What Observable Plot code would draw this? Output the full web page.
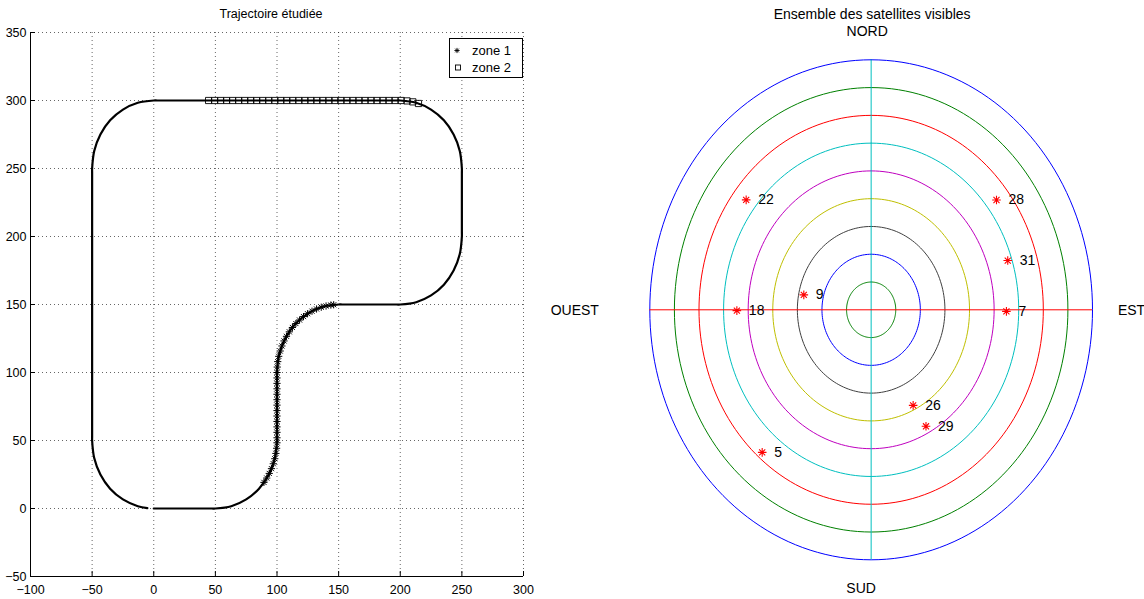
<!DOCTYPE html>
<html>
<head>
<meta charset="utf-8">
<script src="https://cdn.jsdelivr.net/npm/d3@7"></script>
<script src="https://cdn.jsdelivr.net/npm/@observablehq/plot@0.6"></script>
<style>
  body { margin: 0; background: #fff; }
  #wrap { position: relative; width: 1144px; height: 599px; overflow: hidden; font-family: "Liberation Sans", Arial, sans-serif; }
  #left, #right, #legend { position: absolute; top: 0; }
  #left { left: 0; }
  #right { left: 540px; }
</style>
</head>
<body>
<div id="wrap"><div id="left"></div><div id="right"></div><div id="legend"></div></div>
<script>
// ---------- Left panel data ----------
const leftTitle = "Trajectoire étudiée";
const xTicks = [-100, -50, 0, 50, 100, 150, 200, 250, 300];
const yTicks = [-50, 0, 50, 100, 150, 200, 250, 300, 350];

// trajectory waypoints
const trajX = [0, 3, 47, 50, 62.9, 75.0, 85.4, 93.3, 98.3, 100, 100, 100, 100, 101.7, 106.7, 114.6, 125.0, 137.1, 150, 153, 197, 200, 212.9, 225.0, 235.4, 243.3, 248.3, 250, 250, 250, 250, 248.3, 243.3, 235.4, 225.0, 212.9, 200, 197, 3, 0, -12.9, -25.0, -35.4, -43.3, -48.3, -50, -50, -50, -50, -48.3, -43.3, -35.4, -25.0, -12.9, -5.2];
const trajY = [0, 0, 0, 0, 1.7, 6.7, 14.6, 25.0, 37.1, 50, 53, 97, 100, 112.9, 125.0, 135.4, 143.3, 148.3, 150, 150, 150, 150, 151.7, 156.7, 164.6, 175.0, 187.1, 200, 203, 247, 250, 262.9, 275.0, 285.4, 293.3, 298.3, 300, 300, 300, 300, 298.3, 293.3, 285.4, 275.0, 262.9, 250, 247, 53, 50, 37.1, 25.0, 14.6, 6.7, 1.7, 0.3];

// zone 1 markers (asterisks)
const zone1X = [89.4, 91.7, 93.7, 95.5, 97.0, 98.2, 99.1, 99.7, 100.0, 100, 100, 100, 100, 100, 100, 100, 100, 100, 100, 100, 100, 100, 100.2, 100.6, 101.4, 102.6, 104.0, 105.7, 107.7, 110.0, 112.5, 115.3, 118.3, 121.5, 124.8, 128.4, 132.1, 135.9, 139.8, 143.7, 146.0];
const zone1Y = [19.2, 22.4, 25.8, 29.3, 32.9, 36.6, 40.5, 44.3, 48.3, 52, 56, 60, 64, 68, 72, 76, 80, 84, 88, 92, 96, 100, 104.0, 108.0, 111.9, 115.8, 119.5, 123.2, 126.6, 129.9, 133.1, 136.0, 138.6, 141.1, 143.2, 145.1, 146.7, 148.0, 148.9, 149.6, 149.8];

// zone 2 markers (squares)
const zone2X = [44.5, 49.4, 54.3, 59.1, 64.0, 68.9, 73.8, 78.7, 83.5, 88.4, 93.3, 98.2, 103.1, 107.9, 112.8, 117.7, 122.6, 127.5, 132.3, 137.2, 142.1, 147.0, 151.9, 156.7, 161.6, 166.5, 171.4, 176.3, 181.1, 186.0, 190.9, 195.8, 200.7, 205.5, 210.2, 214.8];
const zone2Y = [300, 300, 300, 300, 300, 300, 300, 300, 300, 300, 300, 300, 300, 300, 300, 300, 300, 300, 300, 300, 300, 300, 300, 300, 300, 300, 300, 300, 300, 300, 300, 300, 300, 299.7, 299.0, 297.8];

const legendLabels = ["zone 1", "zone 2"];

// ---------- Right panel data ----------
const rightTitle = "Ensemble des satellites visibles";
const dirNorth = "NORD", dirSouth = "SUD", dirEast = "EST", dirWest = "OUEST";
const ringRadii = [90, 80, 70, 60, 50, 40, 30, 20, 10];
const ringColors = ["#0000ff", "#008000", "#ff0000", "#00bfbf", "#bf00bf", "#bfbf00", "#404040", "#0000ff", "#008000"];
const satIds = [22, 28, 31, 9, 18, 7, 26, 29, 5];
const satAz  = [307.9, 52.2, 72.3, 281.1, 269.7, 90.6, 153.6, 152.0, 220.8];
const satEl  = [25.6, 25.5, 31.7, 62.1, 35.4, 35.0, 51.6, 42.5, 22.2];

// ---------- helpers ----------
const matlabStar = {
  draw(context, size) {
    const r = Math.sqrt(size / Math.PI), d = r * Math.SQRT1_2;
    context.moveTo(-r, 0); context.lineTo(r, 0);
    context.moveTo(0, -r); context.lineTo(0, r);
    context.moveTo(-d, -d); context.lineTo(d, d);
    context.moveTo(-d, d); context.lineTo(d, -d);
  }
};
const fontFamily = '"Liberation Sans", Arial, Helvetica, sans-serif';

const traj = trajX.map((x, i) => ({x, y: trajY[i]}));
const zone1 = zone1X.map((x, i) => ({x, y: zone1Y[i]}));
const zone2 = zone2X.map((x, i) => ({x, y: zone2Y[i]}));
const gridStyle = {stroke: "#000", strokeOpacity: 0.6, strokeDasharray: "1,3", strokeWidth: 1};

const left = Plot.plot({
  width: 540, height: 599,
  marginLeft: 30, marginRight: 17, marginTop: 32, marginBottom: 23,
  style: {fontFamily, fontSize: "12px", background: "transparent", color: "#000"},
  x: {domain: [xTicks[0], xTicks[xTicks.length - 1]], ticks: xTicks, label: null},
  y: {domain: [yTicks[0], yTicks[yTicks.length - 1]], ticks: yTicks, label: null},
  marks: [
    Plot.gridX(xTicks, gridStyle),
    Plot.gridY(yTicks, gridStyle),
    Plot.ruleX([xTicks[0]], {stroke: "#000"}),
    Plot.ruleY([yTicks[0]], {stroke: "#000"}),
    Plot.tickX(xTicks, {x: d => d, insetTop: 539, stroke: "#000"}),
    Plot.tickY(yTicks, {y: d => d, insetRight: 488, stroke: "#000"}),
    Plot.axisX({ticks: xTicks, tickSize: 0, tickPadding: 9, fontSize: 12.5, label: null}),
    Plot.axisY({ticks: yTicks, tickSize: 0, tickPadding: 4, fontSize: 12.5, label: null}),
    Plot.line(traj, {x: "x", y: "y", stroke: "#000", strokeWidth: 2.2, curve: "catmull-rom"}),
    Plot.dot(zone2, {x: "x", y: "y", symbol: "square", r: 3.5, stroke: "#000", fill: "none", strokeWidth: 0.9}),
    Plot.dot(zone1, {x: "x", y: "y", symbol: matlabStar, r: 3.6, stroke: "#000", fill: "none", strokeWidth: 1}),
    Plot.text([leftTitle], {text: d => d, frameAnchor: "top", lineAnchor: "middle", dy: -19, dx: -6, fontSize: 12.5})
  ]
});
document.getElementById("left").appendChild(left);

// legend (HTML-positioned SVG with real text)
const lg = d3.select("#legend").style("left", "449px").style("top", "38px")
  .append("svg").attr("width", 76).attr("height", 41)
  .style("font-family", fontFamily).style("font-size", "13px");
lg.append("rect").attr("x", 0.5).attr("y", 0.5).attr("width", 73).attr("height", 39)
  .attr("fill", "#fff").attr("stroke", "#000");
lg.append("path").attr("d", d3.symbol(matlabStar, Math.PI * 2.6 * 2.6)()).attr("transform", "translate(8,12.5)")
  .attr("stroke", "#000").attr("fill", "none").attr("stroke-width", 0.9);
lg.append("rect").attr("x", 6.5).attr("y", 27).attr("width", 5).attr("height", 5)
  .attr("stroke", "#000").attr("fill", "none").attr("stroke-width", 0.9);
lg.selectAll("text.l").data(legendLabels).join("text").attr("class", "l")
  .attr("x", 23).attr("y", (d, i) => i ? 29.5 : 12.5).attr("dy", "0.36em").text(d => d);

// ---------- right panel ----------
const sats = satIds.map((id, i) => {
  const r = 90 - satEl[i], a = satAz[i] * Math.PI / 180;
  return {id, x: r * Math.sin(a), y: r * Math.cos(a)};
});
const ringMarks = ringRadii.map((r, i) =>
  Plot.line(d3.range(0, 361, 2).map(a => ({x: r * Math.sin(a * Math.PI / 180), y: r * Math.cos(a * Math.PI / 180)})),
    {x: "x", y: "y", stroke: ringColors[i], strokeWidth: 1})
);

const right = Plot.plot({
  width: 604, height: 599,
  marginLeft: 109.3, marginRight: 52, marginTop: 59.3, marginBottom: 39.7,
  style: {fontFamily, fontSize: "14px", background: "transparent", color: "#000"},
  x: {domain: [-90, 90], axis: null},
  y: {domain: [-90, 90], axis: null},
  marks: [
    ...ringMarks,
    Plot.ruleX([0], {stroke: "#00bfbf", strokeWidth: 1}),
    Plot.ruleY([0], {stroke: "#ff0000", strokeWidth: 1}),
    Plot.dot(sats, {x: "x", y: "y", symbol: matlabStar, r: 4.3, stroke: "#ff0000", fill: "none", strokeWidth: 1.1}),
    Plot.text(sats, {x: "x", y: "y", text: d => String(d.id), dx: 12, textAnchor: "start", fontSize: 14}),
    Plot.text([rightTitle], {text: d => d, frameAnchor: "top", lineAnchor: "middle", textAnchor: "middle", dy: -45, dx: 1, fontSize: 14}),
    Plot.text([dirNorth], {text: d => d, frameAnchor: "top", lineAnchor: "middle", textAnchor: "middle", dy: -28, dx: -4, fontSize: 14}),
    Plot.text([dirSouth], {text: d => d, frameAnchor: "bottom", lineAnchor: "middle", textAnchor: "middle", dy: 29, dx: -10, fontSize: 14}),
    Plot.text([dirWest], {text: d => d, frameAnchor: "left", lineAnchor: "middle", textAnchor: "middle", dx: -75, dy: 1, fontSize: 14}),
    Plot.text([dirEast], {text: d => d, frameAnchor: "right", lineAnchor: "middle", textAnchor: "middle", dx: 39, dy: 1, fontSize: 14})
  ]
});
document.getElementById("right").appendChild(right);
</script>
</body>
</html>
